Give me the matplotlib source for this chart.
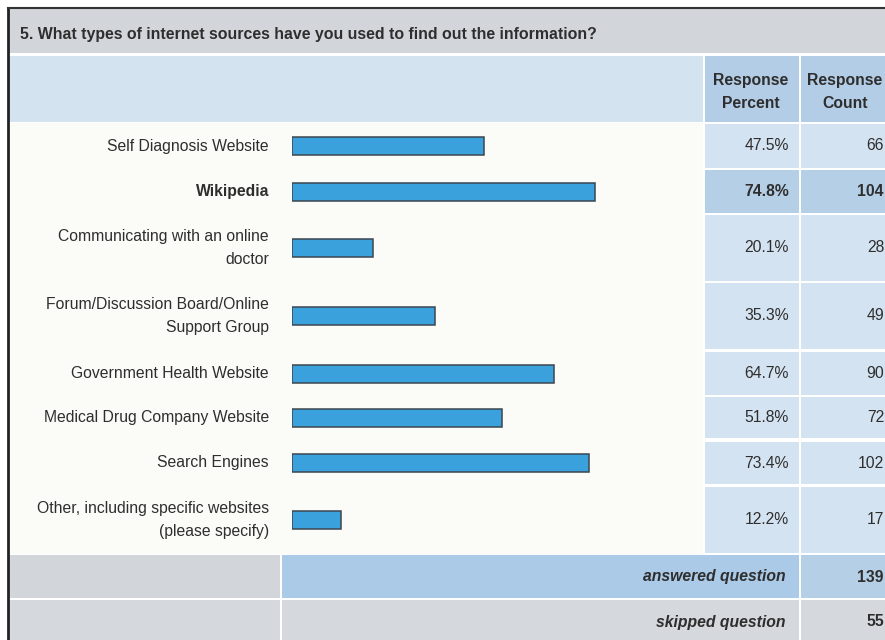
import matplotlib.pyplot as plt
from matplotlib.patches import Rectangle

plt.rcParams['font.family'] = ['Liberation Sans', 'DejaVu Sans']

title = '5. What types of internet sources have you used to find out the information?'
labels = ['Self Diagnosis Website', 'Wikipedia', 'Communicating with an online\ndoctor',
          'Forum/Discussion Board/Online\nSupport Group', 'Government Health Website',
          'Medical Drug Company Website', 'Search Engines',
          'Other, including specific websites\n(please specify)']
percents = [47.5, 74.8, 20.1, 35.3, 64.7, 51.8, 73.4, 12.2]
counts = [66, 104, 28, 49, 90, 72, 102, 17]
answered = 139
skipped = 55

# row layout in pixels (top, bottom)
rows = [(124, 168), (170, 213), (215, 281), (283, 349), (352, 395),
        (397, 438), (442, 484), (487, 553)]

fs = 11.3
tc = '#2e2e2e'

fig = plt.figure(figsize=(8.85, 6.4), dpi=100)
fig.patch.set_facecolor('white')
bg = fig.add_axes([0, 0, 1, 1])
bg.set_xlim(0, 885)
bg.set_ylim(640, 0)
bg.axis('off')

def cell(x0, y0, x1, y1, c):
    bg.add_patch(Rectangle((x0, y0), x1 - x0, y1 - y0, facecolor=c, edgecolor='none'))

# title band + header
cell(9, 9, 885, 53, '#d2d6da')
cell(9, 56, 703, 122, '#d3e3f0')
cell(705, 56, 799, 122, '#b2cde5')
cell(801, 56, 885, 122, '#b2cde5')
cell(9, 123, 703, 554, '#fbfbf8')

for i, (t, b) in enumerate(rows):
    c = '#b5cfe7' if i == 1 else '#d4e3f1'
    cell(705, t, 799, b, c)
    cell(801, t, 885, b, c)

# footer
cell(9, 555, 280, 598, '#d2d6db')
cell(282, 555, 799, 598, '#aacae8')
cell(801, 555, 885, 598, '#b5cfe7')
cell(9, 600, 280, 640, '#d5d9de')
cell(282, 600, 799, 640, '#d5d9de')
cell(801, 600, 885, 640, '#d5d9de')

# outer border
bg.plot([8, 8], [8, 640], color='#222222', lw=2)
bg.plot([8, 885], [8, 8], color='#333333', lw=1.5)

bg.text(20, 34, title, fontsize=11.4, fontweight='bold', color=tc, va='center')
bg.text(751, 80, 'Response', fontsize=fs, fontweight='bold', color=tc, ha='center', va='center')
bg.text(751, 104, 'Percent', fontsize=fs, fontweight='bold', color=tc, ha='center', va='center')
bg.text(845, 80, 'Response', fontsize=fs, fontweight='bold', color=tc, ha='center', va='center')
bg.text(845, 104, 'Count', fontsize=fs, fontweight='bold', color=tc, ha='center', va='center')

for i, (t, b) in enumerate(rows):
    yc = (t + b) / 2
    wt = 'bold' if i == 1 else 'normal'
    bg.text(269, yc, labels[i], fontsize=fs, color=tc, ha='right', va='center',
            linespacing=1.6, fontweight=wt)
    bg.text(789, yc, f'{percents[i]:.1f}%', fontsize=fs, color=tc, ha='right', va='center', fontweight=wt)
    bg.text(884, yc, str(counts[i]), fontsize=fs, color=tc, ha='right', va='center', fontweight=wt)

bg.text(786, 577, 'answered question', fontsize=fs, fontweight='bold', style='italic',
        color=tc, ha='right', va='center')
bg.text(884, 577, str(answered), fontsize=fs, fontweight='bold', color=tc, ha='right', va='center')
bg.text(786, 622, 'skipped question', fontsize=fs, fontweight='bold', style='italic',
        color=tc, ha='right', va='center')
bg.text(884, 622, str(skipped), fontsize=fs, fontweight='bold', color=tc, ha='right', va='center')

# bars: x in percent, y in pixel rows
bx = fig.add_axes([292 / 885, 0, 405 / 885, 1])
bx.set_xlim(0, 100)
bx.set_ylim(640, 0)
bx.axis('off')
centers = [(t + b) / 2 for t, b in rows]
bx.barh(centers, percents, height=18, color='#3ba1dd', edgecolor='#3c4650', linewidth=1.1)

fig.savefig('out.png', dpi=100)
